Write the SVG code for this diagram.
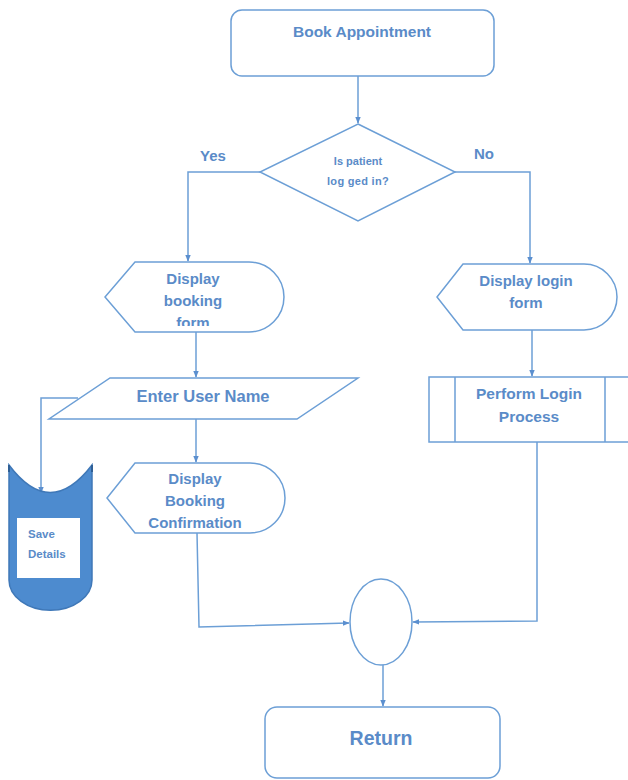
<svg xmlns="http://www.w3.org/2000/svg" width="628" height="780" viewBox="0 0 628 780">
  <style>
    .shape { fill: #ffffff; stroke: #6c9fd6; stroke-width: 1.5; }
    .conn { fill: none; stroke: #6c9fd6; stroke-width: 1.5; }
    .lbl { font-family: "Liberation Sans", Arial, sans-serif; font-weight: bold; fill: #5a8bc8; text-anchor: middle; }
  </style>
  <defs>
    <marker id="arrow" viewBox="0 0 10 10" refX="9" refY="5" markerWidth="7" markerHeight="7" orient="auto-start-reverse" markerUnits="userSpaceOnUse">
      <path d="M0,1 L10,5 L0,9 Z" fill="#5b8fcf"/>
    </marker>
    <clipPath id="clipBooking">
      <rect x="100" y="255" width="190" height="71"/>
    </clipPath>
  </defs>

  <rect width="628" height="780" fill="#ffffff"/>

  <!-- connectors -->
  <g id="connectors">
    <path class="conn" d="M358,76 L358,123" marker-end="url(#arrow)"/>
    <path class="conn" d="M260,172 L188,172 L188,261" marker-end="url(#arrow)"/>
    <path class="conn" d="M455,172 L530,172 L530,263" marker-end="url(#arrow)"/>
    <path class="conn" d="M196,332 L196,377" marker-end="url(#arrow)"/>
    <path class="conn" d="M196,419 L196,462" marker-end="url(#arrow)"/>
    <path class="conn" d="M78,398 L41,398 L41,493" marker-end="url(#arrow)"/>
    <path class="conn" d="M532,330 L532,376" marker-end="url(#arrow)"/>
    <path class="conn" d="M197,533 L199,627 L349,623" marker-end="url(#arrow)"/>
    <path class="conn" d="M537,442 L537,621 L413,622" marker-end="url(#arrow)"/>
    <path class="conn" d="M383,665 L383,706" marker-end="url(#arrow)"/>
    <text class="lbl" x="213" y="161" font-size="15">Yes</text>
    <text class="lbl" x="484" y="159" font-size="15">No</text>
  </g>

  <g id="book-appointment">
    <rect class="shape" x="231" y="10" width="263" height="66" rx="11"/>
    <text class="lbl" x="362" y="37" font-size="15.5">Book Appointment</text>
  </g>

  <g id="is-logged-in">
    <path class="shape" d="M358,124 L455,172 L358,221 L260,172 Z"/>
    <text class="lbl" x="358" y="165" font-size="11">Is patient</text>
    <text class="lbl" x="358" y="185" font-size="11" letter-spacing="0.3">log ged in?</text>
  </g>

  <g id="display-booking-form">
    <path class="shape" d="M135,262 L249,262 A35,35 0 0 1 249,332 L135,332 L105,297 Z"/>
    <g clip-path="url(#clipBooking)">
      <text class="lbl" x="193" y="284" font-size="15">Display</text>
      <text class="lbl" x="193" y="306" font-size="15">booking</text>
      <text class="lbl" x="193" y="328" font-size="15">form</text>
    </g>
  </g>

  <g id="enter-user-name">
    <path class="shape" d="M110,378 L358,378 L297,419 L49,419 Z"/>
    <text class="lbl" x="203" y="402" font-size="16.5">Enter User Name</text>
  </g>

  <g id="save-details">
    <path d="M9,465 Q50,520 92,465 L92,580 A41,30 0 0 1 9,580 Z" fill="#4d8bcf" stroke="#3f78b8" stroke-width="1.5"/>
    <path d="M9,465 L9,472 M92,465 L92,472" stroke="#2f5f95" stroke-width="2"/>
    <rect x="17" y="518" width="63" height="60" fill="#ffffff"/>
    <text class="lbl" x="28" y="538" font-size="11.5" text-anchor="start" style="text-anchor:start">Save</text>
    <text class="lbl" x="28" y="558" font-size="11.5" style="text-anchor:start">Details</text>
  </g>

  <g id="display-booking-confirmation">
    <path class="shape" d="M135,463 L250,463 A35,35 0 0 1 250,533 L135,533 L107,498 Z"/>
    <text class="lbl" x="195" y="484" font-size="15">Display</text>
    <text class="lbl" x="195" y="506" font-size="15">Booking</text>
    <text class="lbl" x="195" y="528" font-size="15">Confirmation</text>
  </g>

  <g id="display-login-form">
    <path class="shape" d="M463,264 L584,264 A33,33 0 0 1 584,330 L463,330 L437,297 Z"/>
    <text class="lbl" x="526" y="286" font-size="15">Display login</text>
    <text class="lbl" x="526" y="308" font-size="15">form</text>
  </g>

  <g id="perform-login-process">
    <rect class="shape" x="429" y="377" width="210" height="65"/>
    <path class="conn" d="M455,377 L455,442 M605,377 L605,442"/>
    <text class="lbl" x="529" y="399" font-size="15.5">Perform Login</text>
    <text class="lbl" x="529" y="422" font-size="15.5">Process</text>
  </g>

  <g id="merge">
    <ellipse class="shape" cx="381" cy="622" rx="31" ry="43"/>
  </g>

  <g id="return">
    <rect class="shape" x="265" y="707" width="235" height="71" rx="12"/>
    <text class="lbl" x="381" y="745" font-size="19.5">Return</text>
  </g>
</svg>
